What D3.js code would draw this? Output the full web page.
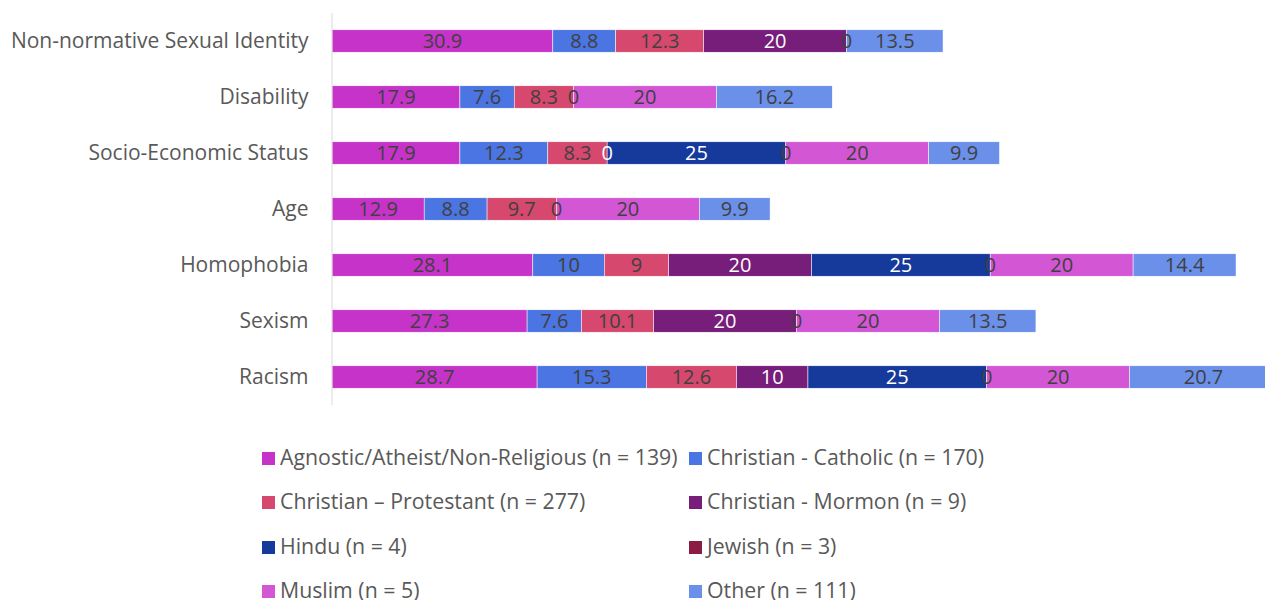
<!DOCTYPE html>
<html>
<head>
<meta charset="utf-8">
<script src="https://cdn.jsdelivr.net/npm/d3@7"></script>
<style>
  html, body { margin: 0; padding: 0; background: #fff; }
  svg { display: block; font-family: "Open Sans", sans-serif; }
</style>
</head>
<body>
<svg id="chart" width="1265" height="600"></svg>
<script>
// Categories, top to bottom
const categories = [
  "Non-normative Sexual Identity", "Disability", "Socio-Economic Status",
  "Age", "Homophobia", "Sexism", "Racism"
];

// Series names (legend order) and colours
const seriesNames = [
  "Agnostic/Atheist/Non-Religious (n = 139)",
  "Christian - Catholic (n = 170)",
  "Christian \u2013 Protestant (n = 277)",
  "Christian - Mormon (n = 9)",
  "Hindu (n = 4)",
  "Jewish (n = 3)",
  "Muslim (n = 5)",
  "Other (n = 111)"
];
const seriesColors = ["#C633C8", "#4A75E2", "#D6486E", "#771D7A", "#163A9C", "#8B1D45", "#D356D5", "#6A90EA"];
const labelColors  = ["#404040", "#404040", "#404040", "#ffffff", "#ffffff", "#404040", "#404040", "#404040"];

// Values per series, one per category (null = no value recorded)
const agnostic   = [30.9, 17.9, 17.9, 12.9, 28.1, 27.3, 28.7];
const catholic   = [8.8, 7.6, 12.3, 8.8, 10, 7.6, 15.3];
const protestant = [12.3, 8.3, 8.3, 9.7, 9, 10.1, 12.6];
const mormon     = [20, null, 0, null, 20, 20, 10];
const hindu      = [null, null, 25, null, 25, null, 25];
const jewish     = [0, 0, 0, 0, 0, 0, 0];
const muslim     = [null, 20, 20, 20, 20, 20, 20];
const other      = [13.5, 16.2, 9.9, 9.9, 14.4, 13.5, 20.7];

const seriesValues = [agnostic, catholic, protestant, mormon, hindu, jewish, muslim, other];

const svg = d3.select("#chart");

const x = d3.scaleLinear().domain([0, 140]).range([332, 1332.5]);
const y = d3.scaleBand().domain(categories).range([13, 405]).paddingInner(0.6).paddingOuter(0.3);

// Stack the series into segments
const rows = categories.map((c, i) => {
  const r = { category: c };
  seriesValues.forEach((vals, s) => { r[s] = vals[i] == null ? 0 : vals[i]; });
  return r;
});
const keys = seriesValues.map((_, s) => s);
const stacked = d3.stack().keys(keys)(rows);

// Bars
const layers = svg.append("g").selectAll("g")
  .data(stacked)
  .join("g")
  .attr("fill", d => seriesColors[d.key]);

layers.selectAll("rect")
  .data(d => d.map(p => ({ p, key: d.key })))
  .join("rect")
  .attr("x", d => x(d.p[0]))
  .attr("y", d => y(d.p.data.category))
  .attr("width", d => x(d.p[1]) - x(d.p[0]))
  .attr("height", y.bandwidth())
  .attr("stroke", "#ffffff")
  .attr("stroke-width", 0.5);

// Data labels (skip cells with no value)
const labelData = [];
stacked.forEach(layer => {
  layer.forEach((p, i) => {
    const v = seriesValues[layer.key][i];
    if (v == null) return;
    labelData.push({ key: layer.key, v, x0: p[0], x1: p[1], category: categories[i] });
  });
});

svg.append("g").selectAll("text")
  .data(labelData)
  .join("text")
  .attr("x", d => (x(d.x0) + x(d.x1)) / 2)
  .attr("y", d => y(d.category) + y.bandwidth() / 2)
  .attr("dy", "0.36em")
  .attr("text-anchor", "middle")
  .attr("font-size", 20)
  .attr("fill", d => labelColors[d.key])
  .text(d => d3.format("~g")(d.v));

// Category axis
const yAxis = svg.append("g")
  .attr("transform", `translate(${x(0) - 0.5},0)`)
  .call(d3.axisLeft(y).tickSize(0).tickPadding(23));
yAxis.select(".domain").attr("stroke", "#d9d9d9").attr("d", "M0.5,13V405");
yAxis.selectAll("text").attr("font-size", 21).attr("fill", "#595959")
  .attr("font-family", "'Open Sans', sans-serif");

// Legend
const legendCols = [262, 689];
const legendRows = [457, 501, 546, 590];
const legend = svg.append("g").selectAll("g")
  .data(seriesNames)
  .join("g")
  .attr("transform", (d, i) => `translate(${legendCols[i % 2]},${legendRows[Math.floor(i / 2)]})`);

legend.append("rect")
  .attr("x", 0).attr("y", -5)
  .attr("width", 13).attr("height", 13)
  .attr("fill", (d, i) => seriesColors[i]);

legend.append("text")
  .attr("x", 18)
  .attr("y", 0)
  .attr("dy", "0.36em")
  .attr("font-size", 21.3)
  .attr("fill", "#595959")
  .text(d => d);
</script>
</body>
</html>
